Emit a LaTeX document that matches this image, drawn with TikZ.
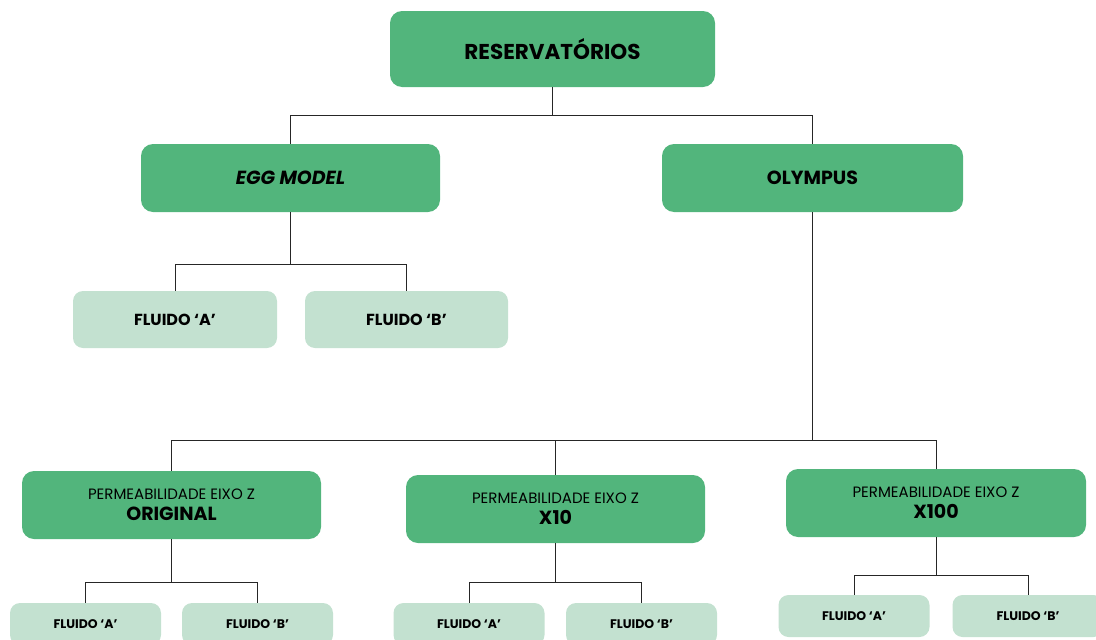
\documentclass[tikz,border=0pt]{standalone}
\usepackage{fontspec}
\setmainfont{Poppins}
\definecolor{boxgreen}{HTML}{52B57C}
\definecolor{leafgreen}{HTML}{C3E1D0}
\begin{document}
\begin{tikzpicture}[x=1pt,y=-1pt,
  mainbox/.style={fill=boxgreen, rounded corners=12pt, draw=none, inner sep=0pt, align=center, font=\bfseries},
  leafbox/.style={fill=leafgreen, rounded corners=10pt, draw=none, inner sep=0pt, align=center, font=\bfseries},
  wire/.style={draw=black!85, line width=0.9pt}]
\useasboundingbox (0,0) rectangle (1096,640);
\begin{scope}
\clip (0,0) rectangle (1096,640);

% top level
\node[mainbox, minimum width=325pt, minimum height=76pt, font=\bfseries\fontsize{21.5}{24}\selectfont] (res) at (552.5,49) {RESERVATÓRIOS};

% reservoirs
\node[mainbox, minimum width=299pt, minimum height=68pt, font=\bfseries\itshape\fontsize{19}{22}\selectfont] (egg) at (290.5,178) {EGG MODEL};
\node[mainbox, minimum width=301pt, minimum height=68pt, font=\bfseries\fontsize{19}{22}\selectfont] (oly) at (812.5,178) {OLYMPUS};

% egg model fluids
\node[leafbox, minimum width=204pt, minimum height=57pt, font=\bfseries\fontsize{16}{19}\selectfont] (ea) at (175,319.5) {FLUIDO ‘A’};
\node[leafbox, minimum width=203pt, minimum height=57pt, font=\bfseries\fontsize{16}{19}\selectfont] (eb) at (406.5,319.5) {FLUIDO ‘B’};

% olympus permeability cases
\tikzset{permbox/.style={mainbox, minimum width=299pt, minimum height=68pt, font=\fontsize{15}{17}\selectfont}}
\newcommand{\caselabel}[1]{PERMEABILIDADE EIXO Z\\[4pt]{\bfseries\fontsize{19}{22}\selectfont #1}}
\node[permbox] (orig) at (171.5,505) {\caselabel{ORIGINAL}};
\node[permbox] (x10) at (555.5,509) {\caselabel{X10}};
\node[permbox, minimum width=300pt] (x100) at (936,503) {\caselabel{X100}};

% fluids per case
\tikzset{smallleaf/.style={leafbox, minimum width=151pt, minimum height=42pt, font=\bfseries\fontsize{12.5}{15}\selectfont}}
\node[smallleaf] (oa) at (85.5,624) {FLUIDO ‘A’};
\node[smallleaf] (ob) at (257.5,624) {FLUIDO ‘B’};
\node[smallleaf] (xa) at (469,624) {FLUIDO ‘A’};
\node[smallleaf] (xb) at (641.5,624) {FLUIDO ‘B’};
\node[smallleaf] (ya) at (854,616) {FLUIDO ‘A’};
\node[smallleaf] (yb) at (1028,616) {FLUIDO ‘B’};

% junction points
\coordinate (j0) at (552.5,115);
\coordinate (j1) at (290.5,264);
\coordinate (j2) at (812.5,440);
\coordinate (j3) at (171.5,582);
\coordinate (j4) at (555.5,582);
\coordinate (j5) at (936,575);

% connectors
\draw[wire] (res.south) -- (j0);
\draw[wire] (j0) -| (egg.north);
\draw[wire] (j0) -| (oly.north);

\draw[wire] (egg.south) -- (j1);
\draw[wire] (j1) -| (ea.north);
\draw[wire] (j1) -| (eb.north);

\draw[wire] (oly.south) -- (j2);
\draw[wire] (j2) -| (orig.north);
\draw[wire] (j2) -| (x10.north);
\draw[wire] (j2) -| (x100.north);

\draw[wire] (orig.south) -- (j3);
\draw[wire] (j3) -| (oa.north);
\draw[wire] (j3) -| (ob.north);

\draw[wire] (x10.south) -- (j4);
\draw[wire] (j4) -| (xa.north);
\draw[wire] (j4) -| (xb.north);

\draw[wire] (x100.south) -- (j5);
\draw[wire] (j5) -| (ya.north);
\draw[wire] (j5) -| (yb.north);
\end{scope}
\end{tikzpicture}
\end{document}
